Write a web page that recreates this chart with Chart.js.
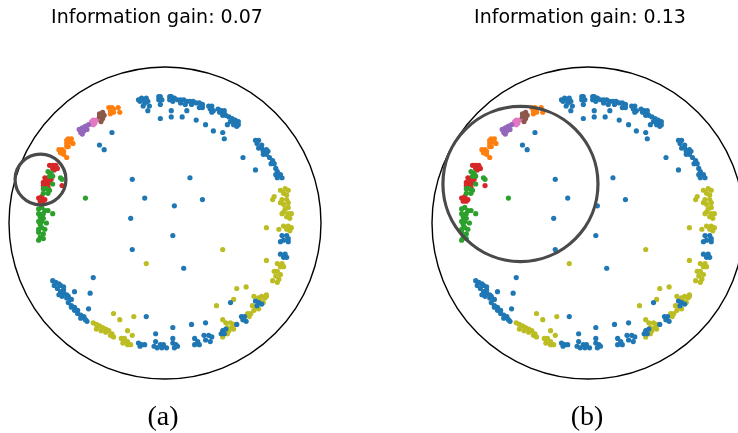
<!DOCTYPE html>
<html>
<head>
<meta charset="utf-8">
<script src="https://cdn.jsdelivr.net/npm/chart.js@4"></script>
<style>
  html, body { margin:0; padding:0; width:738px; height:433px; overflow:hidden; background:#fff; }
  .cv { position:absolute; top:0; }
  .ttl { position:absolute; font-family:"DejaVu Sans", sans-serif; font-size:19px; line-height:19px; color:#000; width:300px; text-align:center; white-space:nowrap; }
  .lab { position:absolute; font-family:"Liberation Serif", serif; font-size:28px; line-height:28px; color:#000; width:100px; text-align:center; }
</style>
</head>
<body>
<canvas id="cA" class="cv" width="369" height="433" style="left:0px"></canvas>
<canvas id="cB" class="cv" width="400" height="433" style="left:369px"></canvas>
<div class="ttl" id="tA" style="left:7px; top:7px;"></div>
<div class="ttl" id="tB" style="left:430px; top:7px;"></div>
<div class="lab" id="lA" style="left:113px; top:402px;"></div>
<div class="lab" id="lB" style="left:537px; top:402px;"></div>
<script>
// ---- texts ----
const titles = ["Information gain: 0.07", "Information gain: 0.13"];
const panelLabels = ["(a)", "(b)"];

// ---- circles: [centerX, centerY, radius] in disk coordinates ----
const diskBoundary = [0, 0, 1];
const highlightA = [-0.798, 0.279, 0.163];
const highlightB = [-0.433, 0.250, 0.497];

// ---- embedded points per class (Poincare disk coordinates) ----
const blue = [
[-.17,.79],[-.15,.80],[-.13,.79],[-.12,.80],[-.16,.78],[-.13,.77],[-.11,.78],[-.14,.75],[-.10,.75],[-.12,.78],[-.11,.72],
[-.04,.81],[-.03,.81],[-.04,.79],[-.02,.79],[-.03,.76],[-.03,.67],
[.03,.81],[.04,.81],[.06,.80],[.03,.79],[.05,.78],
[.08,.79],[.10,.79],[.12,.79],[.14,.78],[.16,.78],[.18,.78],[.20,.77],[.10,.77],[.13,.76],[.17,.76],
[.22,.77],[.24,.76],[.22,.74],[.24,.74],
[.28,.75],[.30,.75],[.29,.73],[.31,.72],[.30,.71],
[.34,.73],[.36,.72],[.38,.72],[.35,.71],[.38,.70],[.39,.69],[.37,.69],
[.41,.68],[.43,.67],[.45,.66],[.42,.65],[.45,.64],[.47,.63],[.46,.62],[.44,.63],[.47,.65],
[.04,.68],[.04,.72],[.11,.68],[.14,.72],[.20,.66],[.26,.63],[.31,.59],[.37,.58],[.38,.54],[.40,.63],
[.58,.53],[.60,.53],[.59,.51],[.62,.50],[.60,.48],[.62,.48],
[.65,.47],[.63,.46],[.66,.46],[.63,.44],[.65,.44],
[.67,.42],[.69,.40],[.68,.38],[.70,.38],
[.71,.35],[.72,.33],[.71,.31],[.74,.31],[.72,.29],[.75,.29],
[.50,.42],[.58,.34],
[.75,-.08],[.78,-.08],[.79,-.10],[.76,-.11],[.79,-.12],[.74,-.12],
[.74,-.20],[.77,-.20],[.76,-.22],[.78,-.22],
[.58,-.50],[.60,-.51],[.59,-.53],[.62,-.52],
[.49,-.60],[.51,-.60],[.50,-.62],[.52,-.63],[.46,-.65],[.42,-.51],
[.37,-.69],[.39,-.68],[.36,-.71],[.38,-.71],
[.25,-.72],[.28,-.72],[.30,-.73],[.26,-.75],[.29,-.76],
[.26,-.64],[.17,-.65],[.05,-.67],
[.19,-.74],[.21,-.76],[.19,-.78],[.22,-.78],
[.05,-.77],[.07,-.78],[.06,-.80],[.08,-.79],[.05,-.74],
[-.03,-.78],[-.01,-.78],[-.02,-.80],[.01,-.80],[-.07,-.79],[-.05,-.80],[-.06,-.76],[-.06,-.71],
[-.17,-.77],[-.15,-.78],[-.13,-.78],[-.16,-.79],[-.12,-.60],
[-.72,-.37],[-.70,-.38],[-.68,-.39],[-.71,-.40],[-.67,-.40],
[-.69,-.42],[-.67,-.44],[-.65,-.45],[-.63,-.46],[-.68,-.46],[-.66,-.47],[-.63,-.48],[-.62,-.47],[-.60,-.49],[-.65,-.43],
[-.62,-.51],[-.60,-.53],[-.58,-.54],[-.60,-.54],[-.58,-.56],[-.56,-.56],
[-.56,-.58],[-.54,-.59],[-.52,-.60],[-.54,-.61],[-.51,-.62],[-.50,-.63],
[-.46,-.35],[-.48,-.45],[-.49,-.55],[-.65,-.41],[-.58,-.44],
[-.21,.28],[-.13,.16],[-.22,.03],[-.21,-.17],[.06,.11],[.16,.29],[.24,.15],[.05,-.08],[.12,-.29],[-.34,.58],[-.42,.50],[-.39,.47]
];
const orange = [
[-.36,.74],[-.34,.74],[-.33,.73],[-.35,.72],[-.33,.71],[-.35,.70],[-.30,.74],[-.29,.71],
[-.63,.53],[-.62,.54],[-.60,.54],[-.63,.51],[-.61,.52],[-.59,.51],[-.63,.49],[-.62,.49],
[-.68,.47],[-.66,.47],[-.65,.46],[-.67,.45],[-.65,.44],[-.63,.42]
];
const green = [
[-.81,.09],[-.79,.10],[-.77,.08],[-.81,.06],[-.78,.06],[-.80,.04],[-.78,.03],[-.81,.01],[-.79,.01],[-.76,0],[-.80,-.01],[-.75,.08],[-.72,.06],
[-.81,-.04],[-.79,-.03],[-.77,-.04],[-.81,-.06],[-.78,-.07],[-.80,-.09],[-.78,-.10],[-.81,-.11],
[-.78,.22],[-.76,.22],[-.74,.21],[-.78,.19],[-.75,.19],
[-.75,.33],[-.73,.32],[-.74,.30],[-.72,.30],
[-.72,.25],[-.66,.28],[-.67,.29],[-.51,.16]
];
const red = [
[-.74,.37],[-.72,.37],[-.70,.37],[-.72,.35],[-.71,.34],[-.69,.35],
[-.77,.29],[-.75,.29],[-.73,.28],[-.78,.26],[-.76,.26],[-.74,.26],[-.78,.24],[-.75,.23],[-.76,.24],
[-.81,.16],[-.79,.17],[-.77,.15],[-.80,.14],[-.78,.14],
[-.66,.24]
];
const purple = [[-.55,.60],[-.53,.61],[-.51,.62],[-.49,.63],[-.54,.58],[-.52,.59],[-.50,.60],[-.53,.57],[-.51,.62]];
const brown = [[-.42,.70],[-.40,.71],[-.39,.69],[-.42,.68],[-.40,.67],[-.41,.65]];
const pink = [[-.47,.65],[-.46,.66],[-.44,.66],[-.46,.63],[-.45,.64]];
const olive = [
[.74,.21],[.77,.22],[.79,.21],[.76,.19],[.78,.18],[.75,.15],[.78,.15],[.79,.13],[.76,.12],[.79,.10],[.77,.09],
[.70,.17],[.69,.15],[.74,.13],
[.76,.07],[.79,.06],[.81,.06],[.78,.04],[.80,.03],[.75,.06],
[.76,-.02],[.79,-.02],[.81,-.03],[.78,-.04],[.80,-.05],[.73,-.04],[.65,-.03],
[.72,-.26],[.75,-.26],[.74,-.28],[.76,-.28],[.65,-.24],
[.70,-.31],[.72,-.31],[.74,-.33],[.71,-.34],[.73,-.36],[.69,-.37],[.72,-.38],
[.46,-.42],[.52,-.41],[.44,-.49],[.33,-.53],[.57,-.47],[.65,-.46],
[.60,-.48],[.62,-.47],[.64,-.48],[.61,-.50],[.63,-.51],[.65,-.47],
[.56,-.53],[.58,-.54],[.57,-.56],[.60,-.55],
[.53,-.58],[.55,-.58],[.54,-.60],
[.50,-.62],[.37,-.62],
[.39,-.64],[.42,-.64],[.44,-.65],[.40,-.67],[.43,-.67],[.38,-.69],[.41,-.69],[.44,-.68],[.40,-.71],[.37,-.73],
[-.46,-.64],[-.44,-.65],[-.42,-.66],[-.40,-.67],[-.38,-.68],[-.44,-.68],[-.41,-.69],[-.38,-.70],
[-.36,-.69],[-.34,-.71],[-.35,-.72],[-.33,-.73],
[-.28,-.74],[-.26,-.74],[-.24,-.76],[-.27,-.77],[-.24,-.78],[-.22,-.78],
[-.33,-.58],[-.29,-.62],[-.20,-.60],[-.24,-.69],[-.21,-.72],
[-.12,-.26],[.37,-.17]
];

const classes = [
  {name:"c0", pts: blue,   color:"#1f77b4"},
  {name:"c1", pts: orange, color:"#ff7f0e"},
  {name:"c2", pts: green,  color:"#2ca02c"},
  {name:"c3", pts: red,    color:"#d62728"},
  {name:"c4", pts: purple, color:"#9467bd"},
  {name:"c5", pts: brown,  color:"#8c564b"},
  {name:"c6", pts: pink,   color:"#e377c2"},
  {name:"c7", pts: olive,  color:"#bcbd22"}
];

function circlePlugin(highlight) {
  function drawCircle(chart, c, color, width) {
    const xs = chart.scales.x, ys = chart.scales.y;
    const cx = xs.getPixelForValue(c[0]);
    const cy = ys.getPixelForValue(c[1]);
    const r = Math.abs(xs.getPixelForValue(c[2]) - xs.getPixelForValue(0));
    const ctx = chart.ctx;
    ctx.save();
    ctx.beginPath();
    ctx.arc(cx, cy, r, 0, Math.PI * 2);
    ctx.strokeStyle = color;
    ctx.lineWidth = width;
    ctx.stroke();
    ctx.restore();
  }
  return {
    id: "circles",
    beforeDatasetsDraw(chart) { drawCircle(chart, diskBoundary, "#000000", 1.4); },
    afterDatasetsDraw(chart) { drawCircle(chart, highlight, "#4a4a4a", 3.2); }
  };
}

function makeChart(id, highlight, pad) {
  return new Chart(document.getElementById(id), {
    type: "scatter",
    data: {
      datasets: classes.map(c => ({
        label: c.name,
        data: c.pts.map(p => ({x: p[0], y: p[1]})),
        backgroundColor: c.color,
        borderWidth: 0,
        pointRadius: 2.6,
        pointHoverRadius: 2.6,
        clip: false
      }))
    },
    options: {
      responsive: false,
      animation: false,
      devicePixelRatio: 1,
      layout: { padding: pad },
      plugins: { legend: {display:false}, tooltip: {enabled:false}, title: {display:false} },
      scales: {
        x: { type:"linear", min:-1, max:1, display:false },
        y: { type:"linear", min:-1, max:1, display:false }
      }
    },
    plugins: [circlePlugin(highlight)]
  });
}

makeChart("cA", highlightA, {left:9, right:48, top:67, bottom:54});
makeChart("cB", highlightB, {left:63, right:25, top:67, bottom:54});

document.getElementById("tA").textContent = titles[0];
document.getElementById("tB").textContent = titles[1];
document.getElementById("lA").textContent = panelLabels[0];
document.getElementById("lB").textContent = panelLabels[1];
</script>
</body>
</html>
